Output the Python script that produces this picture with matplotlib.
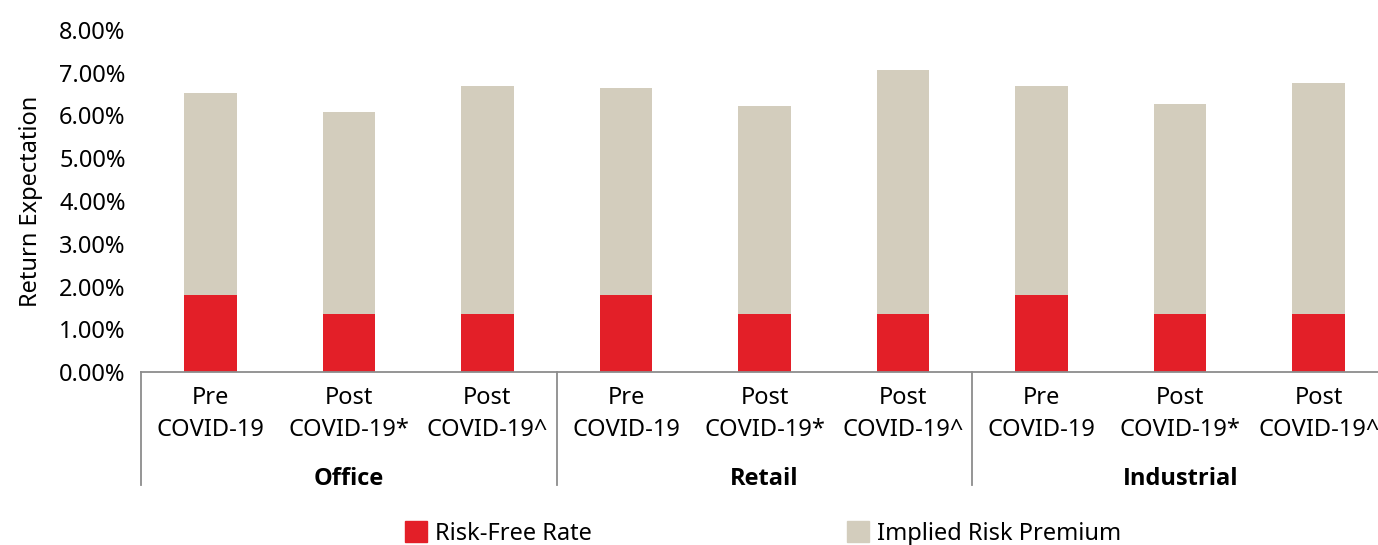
import matplotlib
matplotlib.use("Agg")
import matplotlib.pyplot as plt
from matplotlib.patches import Patch
from matplotlib.ticker import PercentFormatter

plt.rcParams["font.family"] = ["Noto Sans", "DejaVu Sans"]

# data (percent)
sectors = ["Office", "Retail", "Industrial"]
scenarios = ["Pre\nCOVID-19", "Post\nCOVID-19*", "Post\nCOVID-19^"]
risk_free = [1.80, 1.36, 1.36, 1.80, 1.36, 1.36, 1.80, 1.36, 1.36]
total_return = [6.53, 6.09, 6.68, 6.64, 6.22, 7.06, 6.69, 6.27, 6.76]
risk_premium = [t - r for t, r in zip(total_return, risk_free)]

RED = "#E31F28"
BEIGE = "#D3CDBD"

fig = plt.figure(figsize=(13.78, 5.45), dpi=100)
ax = fig.add_axes([141 / 1378, 1 - 372 / 545, 1247 / 1378, 342 / 545])

x = list(range(len(risk_free)))
labels = scenarios * len(sectors)
ax.bar(x, risk_free, width=0.38, color=RED, label="Risk-Free Rate")
ax.bar(x, risk_premium, width=0.38, bottom=risk_free, color=BEIGE,
       label="Implied Risk Premium")

ax.set_xlim(-0.5, len(x) - 0.5)
ax.set_ylim(0, 8)
ax.set_yticks(range(0, 9))
ax.yaxis.set_major_formatter(PercentFormatter(decimals=2))
ax.set_xticks(x)
ax.set_xticklabels(labels, fontsize=17, linespacing=1.45)
ax.tick_params(axis="y", length=0, labelsize=17, pad=11)
ax.tick_params(axis="x", length=0, pad=10)
ax.set_ylabel("Return Expectation", fontsize=17, labelpad=12)

for s in ["top", "right", "left"]:
    ax.spines[s].set_visible(False)
ax.spines["bottom"].set_color("#8c8c8c")
ax.spines["bottom"].set_linewidth(1.3)

# group separators and labels
trans = ax.get_xaxis_transform()
n = len(scenarios)
for i, name in enumerate(sectors):
    left = i * n - 0.5
    ax.plot([left, left], [0, -0.33], transform=trans, color="#8c8c8c",
            lw=1.3, clip_on=False)
    ax.text(left + n / 2, -0.313, name, transform=trans, ha="center",
            va="center", fontsize=17, fontweight="bold",
            family=["Open Sans", "DejaVu Sans"])
ax.plot([len(x) - 0.5] * 2, [0, -0.33], transform=trans, color="#8c8c8c",
        lw=1.3, clip_on=False)

handles = [Patch(color=RED, label="Risk-Free Rate"),
           Patch(color=BEIGE, label="Implied Risk Premium")]
fig.legend(handles=handles, loc="center", bbox_to_anchor=(0.554, 0.021),
           ncol=2, frameon=False, fontsize=17, handlelength=0.93,
           handleheight=0.93, handletextpad=0.34, columnspacing=10.8,
           borderpad=0)

fig.savefig("out.png", dpi=100)
